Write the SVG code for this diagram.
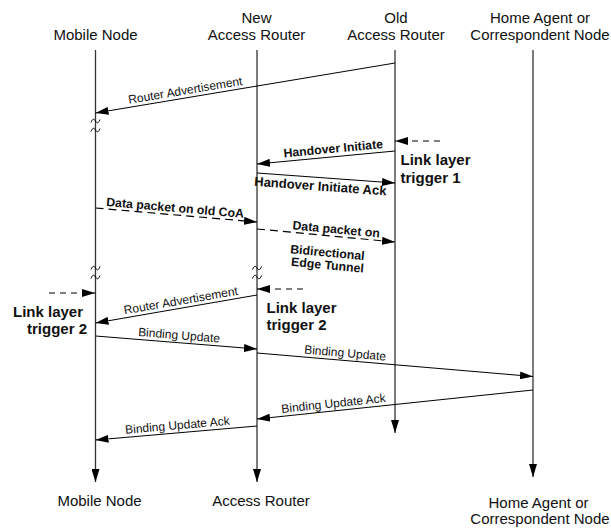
<svg xmlns="http://www.w3.org/2000/svg" width="611" height="531" viewBox="0 0 611 531">
  <style>
    .name { font-family: "Liberation Sans", Arial, sans-serif; font-size: 15px; fill: #111; text-anchor: middle; }
    .msg { font-family: "Liberation Sans", Arial, sans-serif; font-size: 12px; fill: #111; text-anchor: middle; }
    .bmsg { font-family: "Liberation Sans", Arial, sans-serif; font-size: 12.3px; font-weight: bold; fill: #111; }
    .trig { font-family: "Liberation Sans", Arial, sans-serif; font-size: 15px; font-weight: bold; fill: #111; }
    .life { stroke: #333; stroke-width: 1.3; fill: none; }
    .line { stroke: #000; stroke-width: 1; fill: none; }
    .dash { stroke: #000; stroke-width: 1.2; fill: none; stroke-dasharray: 8 5; }
    .tdash { stroke: #000; stroke-width: 1.2; fill: none; stroke-dasharray: 6 5; }
    .brk { stroke: #000; stroke-width: 1; fill: none; }
  </style>
  <defs>
    <marker id="ah" viewBox="0 0 13 8" refX="13" refY="4" markerWidth="13" markerHeight="8" markerUnits="userSpaceOnUse" orient="auto">
      <path d="M0,0 L13,4 L0,8 z" fill="#000"/>
    </marker>
    <path id="tilde" d="M-4.5,1.5 C-3,-2.5 -1.5,-2.5 0,0 S3,2.5 4.5,-1.5"/>
  </defs>

  <rect width="611" height="531" fill="#fff"/>

  <!-- participants: heading labels, lifelines and footer labels -->
  <g id="mobile-node">
    <text class="name" x="95.5" y="40">Mobile Node</text>
    <path class="life" d="M95.5,50 V482" marker-end="url(#ah)"/>
    <use href="#tilde" class="brk" x="95.5" y="121"/>
    <use href="#tilde" class="brk" x="95.5" y="130"/>
    <use href="#tilde" class="brk" x="95.5" y="268"/>
    <use href="#tilde" class="brk" x="95.5" y="277"/>
    <text class="name" x="99.5" y="506">Mobile Node</text>
  </g>

  <g id="new-access-router">
    <text class="name" x="256.5" y="22.5">New</text>
    <text class="name" x="256.5" y="40">Access Router</text>
    <path class="life" d="M257,50 V482" marker-end="url(#ah)"/>
    <use href="#tilde" class="brk" x="257" y="268"/>
    <use href="#tilde" class="brk" x="257" y="277"/>
    <text class="name" x="261" y="506">Access Router</text>
  </g>

  <g id="old-access-router">
    <text class="name" x="396" y="22.5">Old</text>
    <text class="name" x="396" y="40">Access Router</text>
    <path class="life" d="M395,50 V433" marker-end="url(#ah)"/>
  </g>

  <g id="home-agent">
    <text class="name" x="540" y="22.5">Home Agent or</text>
    <text class="name" x="540" y="40">Correspondent Node</text>
    <path class="life" d="M533,50 V477" marker-end="url(#ah)"/>
    <text class="name" x="538.5" y="508">Home Agent or</text>
    <text class="name" x="540" y="523.5">Correspondent Node</text>
  </g>

  <!-- link layer triggers -->
  <g id="trigger-1">
    <path class="tdash" d="M440,141 H395" marker-end="url(#ah)"/>
    <text class="trig" x="400.5" y="165">Link layer</text>
    <text class="trig" x="400.5" y="183">trigger 1</text>
  </g>
  <g id="trigger-2-mn">
    <path class="tdash" d="M49,293 H95" marker-end="url(#ah)"/>
    <text class="trig" x="13" y="317">Link layer</text>
    <text class="trig" x="27" y="333.5">trigger 2</text>
  </g>
  <g id="trigger-2-ar">
    <path class="tdash" d="M303,289 H257" marker-end="url(#ah)"/>
    <text class="trig" x="266.5" y="313">Link layer</text>
    <text class="trig" x="266.5" y="330">trigger 2</text>
  </g>

  <!-- messages -->
  <g id="connectors">
    <path class="line" d="M395,63 L95.5,113" marker-end="url(#ah)"/>
    <text class="msg" transform="translate(186.5,97.8) rotate(-9.46)" y="-3.5">Router Advertisement</text>

    <path class="line" d="M395,151 L257,164" marker-end="url(#ah)"/>
    <text class="bmsg" text-anchor="middle" font-size="12" transform="translate(334,156.7) rotate(-5.38)" y="-4">Handover Initiate</text>

    <path class="line" d="M257,173 L395,183" marker-end="url(#ah)"/>
    <text class="bmsg" text-anchor="middle" style="font-size:13px" transform="translate(321,177.6) rotate(4.14)" y="13">Handover Initiate Ack</text>

    <path class="dash" d="M95.5,208 L257,222" marker-end="url(#ah)"/>
    <text class="bmsg" text-anchor="middle" transform="translate(174.5,214.9) rotate(4.94)" y="-3">Data packet on old CoA</text>

    <path class="dash" d="M257,229 L395,242" marker-end="url(#ah)"/>
    <g transform="translate(292,232.3) rotate(5.38)">
      <text class="bmsg" y="-3">Data packet on</text>
      <text class="bmsg" y="21">Bidirectional</text>
      <text class="bmsg" x="2" y="33.5">Edge Tunnel</text>
    </g>

    <path class="line" d="M257,295 L95.5,323" marker-end="url(#ah)"/>
    <text class="msg" transform="translate(182,308) rotate(-9.8)" y="-3.5">Router Advertisement</text>

    <path class="line" d="M95.5,336 L257,349" marker-end="url(#ah)"/>
    <text class="msg" transform="translate(178.5,342.7) rotate(4.59)" y="-3.5">Binding Update</text>

    <path class="line" d="M257,353 L533,376.5" marker-end="url(#ah)"/>
    <text class="msg" transform="translate(344.5,360.5) rotate(4.87)" y="-3.5">Binding Update</text>

    <path class="line" d="M533,390 L257,419" marker-end="url(#ah)"/>
    <text class="msg" transform="translate(334.3,410.9) rotate(-6)" y="-3.5">Binding Update Ack</text>

    <path class="line" d="M257,426 L95.5,440" marker-end="url(#ah)"/>
    <text class="msg" transform="translate(178,432.8) rotate(-4.94)" y="-3.5">Binding Update Ack</text>
  </g>
</svg>
